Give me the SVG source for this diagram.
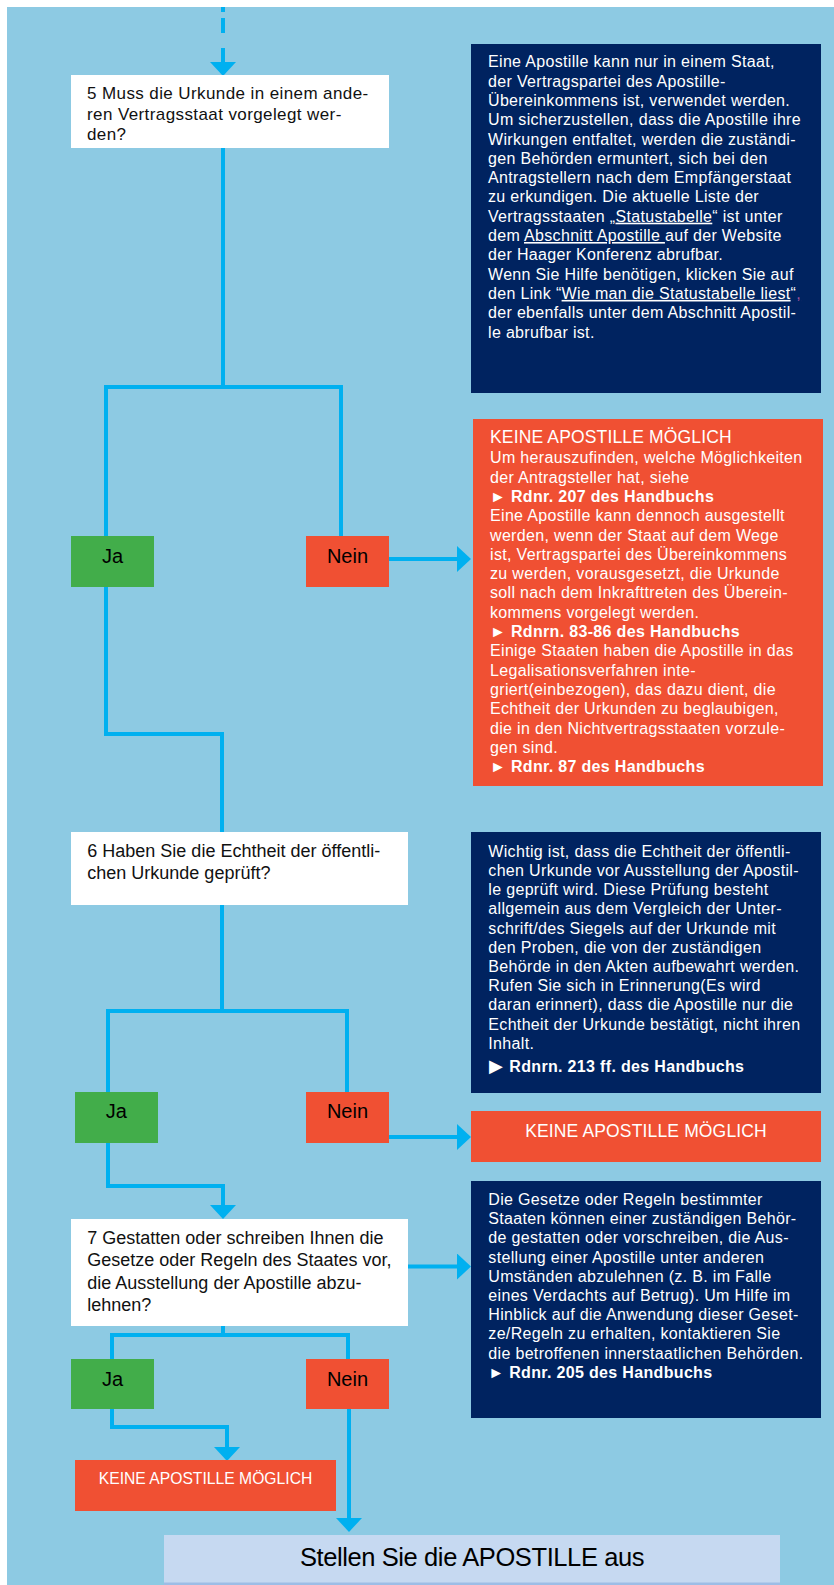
<svg xmlns="http://www.w3.org/2000/svg" width="834" height="1585" viewBox="0 0 834 1585">
  <style>
    .bg { fill: #8DCAE3; }
    .q { fill: #FFFFFF; }
    .info { fill: #002360; }
    .no { fill: #F05033; }
    .yes { fill: #42AD4A; }
    .final { fill: #C6D9F1; }
    text { font-family: "Liberation Sans", Arial, "DejaVu Sans", sans-serif; }
    .qt { font-size: 18px; fill: #111111; }
    .qt5 { font-size: 17px; letter-spacing: 0.4px; fill: #111111; }
    .body { font-size: 16px; letter-spacing: 0.33px; fill: #FFFFFF; }
    .head { font-size: 17.5px; letter-spacing: 0.15px; fill: #FFFFFF; }
    .b { font-weight: bold; }
    .u { text-decoration: underline; }
    .visited { fill: #A0509A; text-decoration: underline; }
    .yn { font-size: 20px; fill: #000000; text-anchor: middle; }
    .small { font-size: 15.7px; fill: #FFFFFF; text-anchor: middle; }
    .mid { text-anchor: middle; }
    .big { font-size: 25.5px; letter-spacing: -0.4px; fill: #000000; text-anchor: middle; }
    .tri { font-family: "DejaVu Sans", sans-serif; font-size: 18px; }
    .wire { fill: none; stroke: #00B0F0; stroke-width: 4; stroke-linejoin: miter; }
  </style>
  <defs>
    <marker id="arrow" markerUnits="userSpaceOnUse" markerWidth="14" markerHeight="26" refX="0" refY="13" orient="auto">
      <path d="M0 0 L14 13 L0 26 Z" fill="#00B0F0"/>
    </marker>
  </defs>

  <!-- page -->
  <rect width="834" height="1585" fill="#FFFFFF"/>
  <rect class="bg" x="7" y="7" width="827" height="1578"/>

  <!-- connectors -->
  <g id="connectors">
    <path class="wire" d="M223 7 V12 M223 18 V33 M223 48 V62" marker-end="url(#arrow)"/>
    <path class="wire" d="M223 148 V387"/>
    <path class="wire" d="M106 536 V387 H341 V536"/>
    <path class="wire" d="M389 559 H457" marker-end="url(#arrow)"/>
    <path class="wire" d="M106 587 V734 H222 V832"/>
    <path class="wire" d="M222 905 V1011"/>
    <path class="wire" d="M108 1092 V1011 H347 V1092"/>
    <path class="wire" d="M389 1137 H457" marker-end="url(#arrow)"/>
    <path class="wire" d="M108 1143 V1186 H223 V1205" marker-end="url(#arrow)"/>
    <path class="wire" d="M408 1266.5 H457" marker-end="url(#arrow)"/>
    <path class="wire" d="M223 1326 V1335"/>
    <path class="wire" d="M112 1359 V1335 H348 V1359"/>
    <path class="wire" d="M112 1409 V1427 H227 V1447" marker-end="url(#arrow)"/>
    <path class="wire" d="M349 1409 V1518" marker-end="url(#arrow)"/>
  </g>

  <!-- question 5 -->
  <g id="q5">
    <rect class="q" x="71" y="75" width="318" height="73"/>
    <text class="qt5">
      <tspan x="87" y="99">5 Muss die Urkunde in einem ande-</tspan>
      <tspan x="87" y="119.5">ren Vertragsstaat vorgelegt wer-</tspan>
      <tspan x="87" y="140">den?</tspan>
    </text>
  </g>

  <!-- note on contracting states -->
  <g id="info5">
    <rect class="info" x="471" y="44" width="350" height="349"/>
    <text class="body">
      <tspan x="488" y="67.3">Eine Apostille kann nur in einem Staat,</tspan>
      <tspan x="488" y="86.6">der Vertragspartei des Apostille-</tspan>
      <tspan x="488" y="105.9">Übereinkommens ist, verwendet werden.</tspan>
      <tspan x="488" y="125.2">Um sicherzustellen, dass die Apostille ihre</tspan>
      <tspan x="488" y="144.5">Wirkungen entfaltet, werden die zuständi-</tspan>
      <tspan x="488" y="163.8">gen Behörden ermuntert, sich bei den</tspan>
      <tspan x="488" y="183.1">Antragstellern nach dem Empfängerstaat</tspan>
      <tspan x="488" y="202.4">zu erkundigen. Die aktuelle Liste der</tspan>
      <tspan x="488" y="221.7">Vertragsstaaten „<tspan class="u">Statustabelle</tspan>“ ist unter</tspan>
      <tspan x="488" y="241">dem <tspan class="u">Abschnitt Apostille </tspan>auf der Website</tspan>
      <tspan x="488" y="260.3">der Haager Konferenz abrufbar.</tspan>
      <tspan x="488" y="279.6">Wenn Sie Hilfe benötigen, klicken Sie auf</tspan>
      <tspan x="488" y="298.9">den Link “<tspan class="u">Wie man die Statustabelle liest</tspan>“<tspan class="visited">,</tspan></tspan>
      <tspan x="488" y="318.2">der ebenfalls unter dem Abschnitt Apostil-</tspan>
      <tspan x="488" y="337.5">le abrufbar ist.</tspan>
    </text>
  </g>

  <!-- answers to 5 -->
  <g id="yes5">
    <rect class="yes" x="71" y="536" width="83" height="51"/>
    <text class="yn" x="112.5" y="562.7">Ja</text>
  </g>
  <g id="no5">
    <rect class="no" x="306" y="536" width="83" height="51"/>
    <text class="yn" x="347.5" y="562.7">Nein</text>
  </g>

  <!-- outcome of "no" to 5 -->
  <g id="refuse5">
    <rect class="no" x="473" y="419" width="350" height="367"/>
    <text class="head" x="490" y="443.3">KEINE APOSTILLE MÖGLICH</text>
    <text class="body">
      <tspan x="490" y="463.3">Um herauszufinden, welche Möglichkeiten</tspan>
      <tspan x="490" y="482.6">der Antragsteller hat, siehe</tspan>
      <tspan x="490" y="501.9" class="b">► Rdnr. 207 des Handbuchs</tspan>
      <tspan x="490" y="521.2">Eine Apostille kann dennoch ausgestellt</tspan>
      <tspan x="490" y="540.5">werden, wenn der Staat auf dem Wege</tspan>
      <tspan x="490" y="559.8">ist, Vertragspartei des Übereinkommens</tspan>
      <tspan x="490" y="579.1">zu werden, vorausgesetzt, die Urkunde</tspan>
      <tspan x="490" y="598.4">soll nach dem Inkrafttreten des Überein-</tspan>
      <tspan x="490" y="617.7">kommens vorgelegt werden.</tspan>
      <tspan x="490" y="637" class="b">► Rdnrn. 83-86 des Handbuchs</tspan>
      <tspan x="490" y="656.3">Einige Staaten haben die Apostille in das</tspan>
      <tspan x="490" y="675.6">Legalisationsverfahren inte-</tspan>
      <tspan x="490" y="694.9">griert(einbezogen), das dazu dient, die</tspan>
      <tspan x="490" y="714.2">Echtheit der Urkunden zu beglaubigen,</tspan>
      <tspan x="490" y="733.5">die in den Nichtvertragsstaaten vorzule-</tspan>
      <tspan x="490" y="752.8">gen sind.</tspan>
      <tspan x="490" y="772.4" class="b">► Rdnr. 87 des Handbuchs</tspan>
    </text>
  </g>

  <!-- question 6 -->
  <g id="q6">
    <rect class="q" x="71" y="832" width="337" height="73"/>
    <text class="qt">
      <tspan x="87.3" y="857.3">6 Haben Sie die Echtheit der öffentli-</tspan>
      <tspan x="87.3" y="879.3">chen Urkunde geprüft?</tspan>
    </text>
  </g>

  <!-- note on authenticity -->
  <g id="info6">
    <rect class="info" x="471" y="832" width="350" height="261"/>
    <text class="body">
      <tspan x="488.3" y="856.7">Wichtig ist, dass die Echtheit der öffentli-</tspan>
      <tspan x="488.3" y="875.9">chen Urkunde vor Ausstellung der Apostil-</tspan>
      <tspan x="488.3" y="895.1">le geprüft wird. Diese Prüfung besteht</tspan>
      <tspan x="488.3" y="914.3">allgemein aus dem Vergleich der Unter-</tspan>
      <tspan x="488.3" y="933.5">schrift/des Siegels auf der Urkunde mit</tspan>
      <tspan x="488.3" y="952.7">den Proben, die von der zuständigen</tspan>
      <tspan x="488.3" y="971.9">Behörde in den Akten aufbewahrt werden.</tspan>
      <tspan x="488.3" y="991.1">Rufen Sie sich in Erinnerung(Es wird</tspan>
      <tspan x="488.3" y="1010.3">daran erinnert), dass die Apostille nur die</tspan>
      <tspan x="488.3" y="1029.5">Echtheit der Urkunde bestätigt, nicht ihren</tspan>
      <tspan x="488.3" y="1048.7">Inhalt.</tspan>
    </text>
    <text class="body b" y="1071.7"><tspan class="tri" x="489" y="1071.7">▶</tspan><tspan x="509.3" y="1071.7">Rdnrn. 213 ff. des Handbuchs</tspan></text>
  </g>

  <!-- answers to 6 -->
  <g id="yes6">
    <rect class="yes" x="75" y="1092" width="83" height="51"/>
    <text class="yn" x="116.3" y="1118.3">Ja</text>
  </g>
  <g id="no6">
    <rect class="no" x="306" y="1092" width="83" height="51"/>
    <text class="yn" x="347.5" y="1118.3">Nein</text>
  </g>

  <!-- outcome of "no" to 6 -->
  <g id="refuse6">
    <rect class="no" x="471" y="1111" width="350" height="51"/>
    <text class="head mid" x="646" y="1137.3">KEINE APOSTILLE MÖGLICH</text>
  </g>

  <!-- question 7 -->
  <g id="q7">
    <rect class="q" x="71" y="1219" width="337" height="107"/>
    <text class="qt">
      <tspan x="87.3" y="1244">7 Gestatten oder schreiben Ihnen die</tspan>
      <tspan x="87.3" y="1266.3">Gesetze oder Regeln des Staates vor,</tspan>
      <tspan x="87.3" y="1288.6">die Ausstellung der Apostille abzu-</tspan>
      <tspan x="87.3" y="1310.9">lehnen?</tspan>
    </text>
  </g>

  <!-- note on domestic rules -->
  <g id="info7">
    <rect class="info" x="471" y="1181" width="350" height="237"/>
    <text class="body">
      <tspan x="488.3" y="1205">Die Gesetze oder Regeln bestimmter</tspan>
      <tspan x="488.3" y="1224.2">Staaten können einer zuständigen Behör-</tspan>
      <tspan x="488.3" y="1243.4">de gestatten oder vorschreiben, die Aus-</tspan>
      <tspan x="488.3" y="1262.6">stellung einer Apostille unter anderen</tspan>
      <tspan x="488.3" y="1281.8">Umständen abzulehnen (z. B. im Falle</tspan>
      <tspan x="488.3" y="1301">eines Verdachts auf Betrug). Um Hilfe im</tspan>
      <tspan x="488.3" y="1320.2">Hinblick auf die Anwendung dieser Geset-</tspan>
      <tspan x="488.3" y="1339.4">ze/Regeln zu erhalten, kontaktieren Sie</tspan>
      <tspan x="488.3" y="1358.6">die betroffenen innerstaatlichen Behörden.</tspan>
      <tspan x="488.3" y="1377.8" class="b">► Rdnr. 205 des Handbuchs</tspan>
    </text>
  </g>

  <!-- answers to 7 -->
  <g id="yes7">
    <rect class="yes" x="71" y="1359" width="83" height="50"/>
    <text class="yn" x="112.5" y="1385.5">Ja</text>
  </g>
  <g id="no7">
    <rect class="no" x="306" y="1359" width="83" height="50"/>
    <text class="yn" x="347.5" y="1385.5">Nein</text>
  </g>

  <!-- outcome of "yes" to 7 -->
  <g id="refuse7">
    <rect class="no" x="75" y="1460" width="261" height="51"/>
    <text class="small" x="205.5" y="1484">KEINE APOSTILLE MÖGLICH</text>
  </g>

  <!-- final step -->
  <g id="issue">
    <rect class="final" x="164" y="1535" width="616" height="48"/>
    <rect x="164" y="1582.5" width="616" height="2.5" fill="#9DBDE6"/>
    <text class="big" x="472" y="1566">Stellen Sie die APOSTILLE aus</text>
  </g>
</svg>
